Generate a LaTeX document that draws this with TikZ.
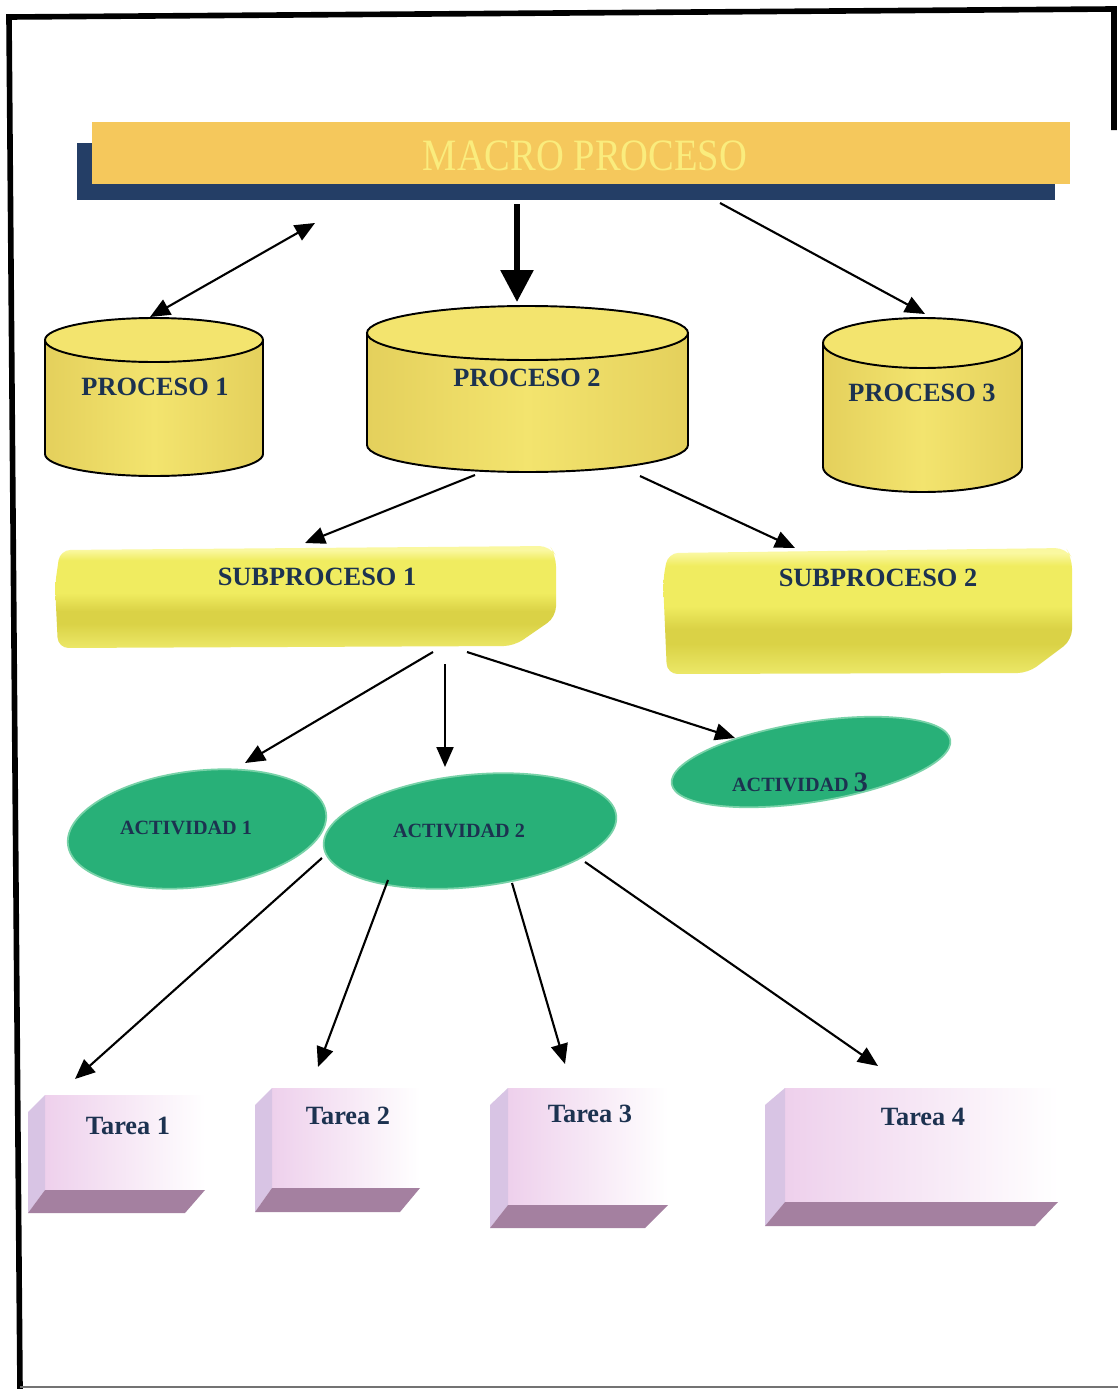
\documentclass[tikz,border=0pt]{standalone}
\usepackage{fontspec}
\setmainfont{Liberation Serif}
\usetikzlibrary{arrows.meta}

\definecolor{barcol}{RGB}{245,200,92}
\definecolor{barshadow}{RGB}{36,62,102}
\definecolor{macrotext}{RGB}{250,236,125}
\definecolor{labcol}{RGB}{28,50,80}
\definecolor{drumcol}{RGB}{243,228,110}
\definecolor{drumdark}{RGB}{228,208,92}
\definecolor{subtop}{RGB}{250,248,160}
\definecolor{submain}{RGB}{240,236,96}
\definecolor{subdark}{RGB}{218,210,70}
\definecolor{sublow}{RGB}{236,232,104}
\definecolor{actcol}{RGB}{40,176,120}
\definecolor{actrim}{RGB}{120,210,168}
\definecolor{tarpink}{RGB}{238,208,236}
\definecolor{tarside}{RGB}{216,196,228}
\definecolor{tarbase}{RGB}{164,128,160}

\pgfdeclareverticalshading{subshade}{100bp}{color(0bp)=(sublow); color(25bp)=(sublow); color(37bp)=(subdark); color(43bp)=(subdark); color(52bp)=(submain); color(68bp)=(submain); color(73bp)=(subtop); color(100bp)=(subtop)}

\tikzset{
  lab/.style={text=labcol, font=\bfseries\fontsize{15}{15}\selectfont, inner sep=0pt},
  actlab/.style={text=labcol, font=\bfseries\fontsize{11.5}{11.5}\selectfont, inner sep=0pt},
  arr/.style={line width=1.2pt, -{Triangle[length=0.4cm, width=0.34cm]}},
  arrboth/.style={line width=1.2pt, {Triangle[length=0.4cm, width=0.34cm]}-{Triangle[length=0.4cm, width=0.34cm]}},
  arrbig/.style={line width=3.4pt, -{Triangle[length=0.64cm, width=0.64cm]}},
  drum/.style={draw=black, line width=1.1pt, left color=drumdark, right color=drumdark, middle color=drumcol},
  drumtop/.style={draw=black, line width=1.1pt, fill=drumcol},
  subbox/.style={shading=subshade, rounded corners=6},
  blob/.style={fill=actcol, draw=actrim, line width=1pt},
  tarface/.style={left color=tarpink, right color=white},
  tarleft/.style={fill=tarside},
  tarfoot/.style={fill=tarbase}
}

\begin{document}
\begin{tikzpicture}[x=0.02cm, y=-0.02cm]
  \useasboundingbox (0,0) rectangle (1118,1389);
  \fill[white] (0,0) rectangle (1118,1389);

  % frame
  \draw[line width=3.2pt, line join=miter] (20,1389) -- (9,17) -- (1114,9) -- (1114,130);
  \draw[line width=0.8pt, black!55] (20,1387) -- (1118,1387);

  % macro proceso
  \fill[barshadow] (77,143) rectangle (1055,200);
  \fill[barcol] (92,122) rectangle (1070,184);
  \node[text=macrotext, font=\fontsize{25.5}{25.5}\selectfont, xscale=0.86, inner sep=0pt] (macro) at (585,156) {MACRO PROCESO};

  % procesos
  \shade[drum] (45,340) -- (45,454) arc[start angle=180, end angle=0, x radius=109, y radius=22] -- (263,340) -- cycle;
  \filldraw[drumtop] (154,340) ellipse [x radius=109, y radius=22];
  \shade[drum] (367,333) -- (367,445) arc[start angle=180, end angle=0, x radius=160.5, y radius=27] -- (688,333) -- cycle;
  \filldraw[drumtop] (527.5,333) ellipse [x radius=160.5, y radius=27];
  \shade[drum] (823,343) -- (823,467) arc[start angle=180, end angle=0, x radius=99.5, y radius=25] -- (1022,343) -- cycle;
  \filldraw[drumtop] (922.5,343) ellipse [x radius=99.5, y radius=25];
  \node[lab] (p1) at (155,387) {PROCESO 1};
  \node[lab] (p2) at (527,378) {PROCESO 2};
  \node[lab] (p3) at (922,393) {PROCESO 3};

  % subprocesos
  \shade[subbox] (60,550) -- (550,546) -- (556,556) -- (556,617) -- (514,646) -- (58,648) -- (55,585) -- cycle;
  \shade[subbox] (668,553) -- (1066,548) -- (1072,558) -- (1072,640) -- (1028,673) -- (667,674) -- (663,580) -- cycle;
  \node[lab] (s1) at (317,577) {SUBPROCESO 1};
  \node[lab] (s2) at (878,578) {SUBPROCESO 2};

  % actividades
  \filldraw[blob, rotate around={7:(197,829)}] (197,829) ellipse [x radius=130, y radius=58];
  \filldraw[blob, rotate around={6:(470,831)}] (470,831) ellipse [x radius=147, y radius=56];
  \filldraw[blob, rotate around={9:(811,762)}] (811,762) ellipse [x radius=141, y radius=40];
  \node[actlab] (a1) at (186,828) {ACTIVIDAD 1};
  \node[actlab] (a2) at (459,831) {ACTIVIDAD 2};
  \node[actlab] (a3) at (800,782) {ACTIVIDAD {\fontsize{16}{16}\selectfont 3}};

  % tareas
  \shade[tarface] (45,1095) rectangle (205,1190);
  \fill[tarleft] (28,1112) -- (45,1095) -- (45,1190) -- (28,1213) -- cycle;
  \fill[tarfoot] (45,1190) -- (205,1190) -- (185,1213) -- (28,1213) -- cycle;
  \shade[tarface] (272,1088) rectangle (420,1188);
  \fill[tarleft] (255,1105) -- (272,1088) -- (272,1188) -- (255,1212) -- cycle;
  \fill[tarfoot] (272,1188) -- (420,1188) -- (400,1212) -- (255,1212) -- cycle;
  \shade[tarface] (508,1088) rectangle (668,1205);
  \fill[tarleft] (490,1105) -- (508,1088) -- (508,1205) -- (490,1228) -- cycle;
  \fill[tarfoot] (508,1205) -- (668,1205) -- (645,1228) -- (490,1228) -- cycle;
  \shade[tarface] (785,1088) rectangle (1058,1202);
  \fill[tarleft] (765,1105) -- (785,1088) -- (785,1202) -- (765,1226) -- cycle;
  \fill[tarfoot] (785,1202) -- (1058,1202) -- (1035,1226) -- (765,1226) -- cycle;
  \node[lab] (t1) at (128,1126) {Tarea 1};
  \node[lab] (t2) at (348,1116) {Tarea 2};
  \node[lab] (t3) at (590,1114) {Tarea 3};
  \node[lab] (t4) at (923,1117) {Tarea 4};

  % arrow ends
  \coordinate (mpleft) at (315,223);
  \coordinate (mpmid) at (517,204);
  \coordinate (mpright) at (720,203);
  \coordinate (p1top) at (150,317);
  \coordinate (p2top) at (517,302);
  \coordinate (p3top) at (925,314);
  \coordinate (p2left) at (475,475);
  \coordinate (p2right) at (640,476);
  \coordinate (s1top) at (305,543);
  \coordinate (s2top) at (795,548);
  \coordinate (s1a) at (433,652);
  \coordinate (s1b) at (445,664);
  \coordinate (s1c) at (467,652);
  \coordinate (a1top) at (245,763);
  \coordinate (a2top) at (445,767);
  \coordinate (a3top) at (735,738);
  \coordinate (a2a) at (322,858);
  \coordinate (a2b) at (388,880);
  \coordinate (a2c) at (512,883);
  \coordinate (a2d) at (585,862);
  \coordinate (t1top) at (75,1079);
  \coordinate (t2top) at (318,1067);
  \coordinate (t3top) at (565,1064);
  \coordinate (t4top) at (878,1066);

  % connectors
  \draw[arrboth] (p1top) -- (mpleft);
  \draw[arrbig] (mpmid) -- (p2top);
  \draw[arr] (mpright) -- (p3top);
  \draw[arr] (p2left) -- (s1top);
  \draw[arr] (p2right) -- (s2top);
  \draw[arr] (s1a) -- (a1top);
  \draw[arr] (s1b) -- (a2top);
  \draw[arr] (s1c) -- (a3top);
  \draw[arr] (a2a) -- (t1top);
  \draw[arr] (a2b) -- (t2top);
  \draw[arr] (a2c) -- (t3top);
  \draw[arr] (a2d) -- (t4top);
\end{tikzpicture}
\end{document}
